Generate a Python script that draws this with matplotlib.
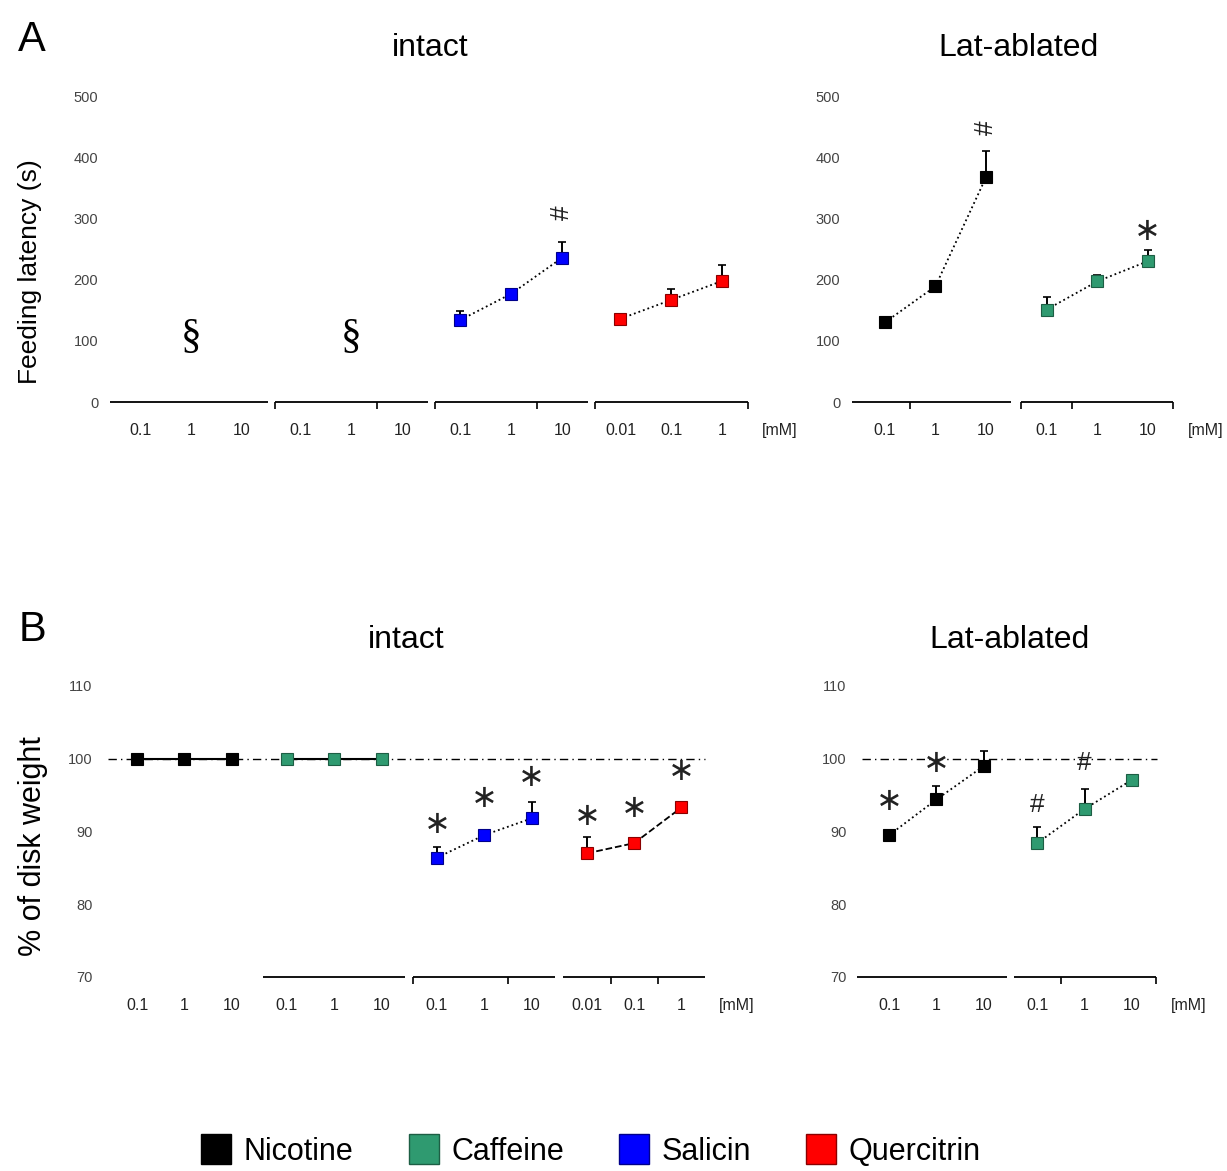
import matplotlib.pyplot as plt
from matplotlib.lines import Line2D

plt.rcParams["font.family"] = ["Liberation Sans", "DejaVu Sans"]

########## Canvas size in pixels
W, H = 1227, 1171

########## Data
compounds = ["Nicotine", "Caffeine", "Salicin", "Quercitrin"]
face_colors = ["#000000", "#2f9a70", "#0000ff", "#ff0000"]
edge_colors = ["#000000", "#1d5e44", "#00008a", "#8a0000"]

doses = ["0.1", "1", "10"]
doses_querc = ["0.01", "0.1", "1"]

# A - feeding latency (s), intact (nicotine / caffeine: no feeding)
lat_int_salicin = [134, 177, 236]
lat_int_salicin_err = [15, 4, 26]
lat_int_querc = [136, 167, 198]
lat_int_querc_err = [3, 18, 26]

# A - feeding latency (s), Lat-ablated
lat_abl_nicotine = [130, 189, 367]
lat_abl_nicotine_err = [3, 4, 43]
lat_abl_caffeine = [151, 197, 230]
lat_abl_caffeine_err = [21, 11, 18]

# B - % of disk weight, intact
wt_int_nicotine = [100, 100, 100]
wt_int_caffeine = [100, 100, 100]
wt_int_salicin = [86.4, 89.5, 91.8]
wt_int_salicin_err = [1.5, 0.3, 2.3]
wt_int_querc = [87.0, 88.4, 93.3]
wt_int_querc_err = [2.2, 0.3, 0.3]

# B - % of disk weight, Lat-ablated
wt_abl_nicotine = [89.5, 94.4, 99.0]
wt_abl_nicotine_err = [0.3, 1.9, 2.0]
wt_abl_caffeine = [88.4, 93.1, 97.1]
wt_abl_caffeine_err = [2.2, 2.7, 0.3]

# significance marks: (symbol, group, dose index, y)
sig_a_int = [("§", 0, 1, 105), ("§", 1, 1, 105), ("#", 2, 2, 310)]
sig_a_abl = [("#", 0, 2, 449), ("*", 1, 2, 278)]
sig_b_int = [("*", 2, 0, 90.9), ("*", 2, 1, 94.6), ("*", 2, 2, 97.4),
             ("*", 3, 0, 92.0), ("*", 3, 1, 93.2), ("*", 3, 2, 98.2)]
sig_b_abl = [("*", 0, 0, 94.1), ("*", 0, 1, 99.4),
             ("#", 1, 0, 93.6), ("#", 1, 1, 99.4)]


fig = plt.figure(figsize=(W / 100, H / 100), dpi=100)


def px_axes(left, top, right, bottom):
    return fig.add_axes([left / W, 1 - bottom / H, (right - left) / W, (bottom - top) / H])


def draw_panel(ax, groups, gstep, xlim, ylim, yticks, mm_pos, marks, rot_hash):
    ax.set_xlim(xlim)
    ax.set_ylim(ylim)
    for s in ax.spines.values():
        s.set_visible(False)
    y0 = ylim[0]

    xt, xl = [], []
    for g, grp in enumerate(groups):
        xs = [g * gstep + i for i in range(3)]
        xt += xs
        xl += grp["labels"]

        # broken x axis segment for this group
        if grp.get("axis", True):
            start = xlim[0] + 0.03 if g == 0 else g * gstep - 0.5
            ax.plot([start, g * gstep + 2.5], [y0, y0], color="k", lw=1.3,
                    clip_on=False, solid_capstyle="butt")
            tk = [g * gstep + t for t in grp.get("ticks", [])]
            if tk:
                ax.plot(tk, [y0] * len(tk), ls="none", marker=3, ms=5, mew=1.2,
                        color="k", clip_on=False)

        if grp.get("values") is None:
            continue
        vals = grp["values"]
        if grp.get("err") is not None:
            ax.errorbar(xs, vals, yerr=[[0] * 3, grp["err"]], fmt="none", ecolor="k",
                        elinewidth=1.4, capsize=3, capthick=1.2, zorder=2)
        ax.plot(xs, vals, color="k", lw=grp.get("lw", 1.3), ls=grp.get("ls", ":"), zorder=3)
        ax.plot(xs, vals, ls="none", marker="s", ms=9, mfc=face_colors[grp["c"]],
                mec=edge_colors[grp["c"]], mew=0.8, zorder=4, clip_on=False)

    xt.append(mm_pos)
    xl.append("[mM]")
    ax.set_xticks(xt, xl)
    ax.tick_params(axis="x", length=0, pad=15, labelsize=11.5, labelcolor="#222222")
    ax.set_yticks(yticks)
    ax.tick_params(axis="y", length=0, pad=7, labelsize=10.5, labelcolor="#444444")

    for sym, g, i, y in marks:
        x = g * gstep + i
        if sym == "§":
            ax.text(x, y, sym, ha="center", va="center", fontsize=30,
                    family="Liberation Serif")
        elif sym == "#":
            ax.text(x, y, sym, ha="center", va="center", fontsize=19,
                    rotation=90 if rot_hash else 0, color="#222222")
        else:
            ax.text(x, y, "∗", ha="center", va="center", fontsize=23,
                    family="DejaVu Sans", color="#222222")


########## Panel A - intact
ax_a1 = px_axes(108, 96, 800, 402)
draw_panel(ax_a1,
           [dict(labels=doses, values=None),
            dict(labels=doses, values=None, ticks=[-0.5, 1.5]),
            dict(labels=doses, values=lat_int_salicin, err=lat_int_salicin_err, c=2, ticks=[-0.5, 1.5]),
            dict(labels=doses_querc, values=lat_int_querc, err=lat_int_querc_err, c=3, ticks=[-0.5, 2.5])],
           3.14, (-0.63, 12.94), (0, 500), [0, 100, 200, 300, 400, 500], 12.55, sig_a_int, True)

########## Panel A - Lat-ablated
ax_a2 = px_axes(850, 96, 1220, 402)
draw_panel(ax_a2,
           [dict(labels=doses, values=lat_abl_nicotine, err=lat_abl_nicotine_err, c=0, ticks=[0.5]),
            dict(labels=doses, values=lat_abl_caffeine, err=lat_abl_caffeine_err, c=1, ticks=[-0.5, 0.5, 2.5])],
           3.2, (-0.69, 6.63), (0, 500), [0, 100, 200, 300, 400, 500], 6.34, sig_a_abl, True)

########## Panel B - intact
ax_b1 = px_axes(102, 686, 760, 977)
ax_b1.plot([-0.61, 12.0], [100, 100], color="k", lw=1, ls=(0, (6, 3, 1, 3)), zorder=1)
draw_panel(ax_b1,
           [dict(labels=doses, values=wt_int_nicotine, c=0, ls="-", lw=1.5, axis=False),
            dict(labels=doses, values=wt_int_caffeine, c=1, ls="-", lw=1.5),
            dict(labels=doses, values=wt_int_salicin, err=wt_int_salicin_err, c=2, ticks=[-0.5, 1.5]),
            dict(labels=doses_querc, values=wt_int_querc, err=wt_int_querc_err, c=3, ls="--", ticks=[0.5, 1.5])],
           3.17, (-0.74, 13.17), (70, 110), [70, 80, 90, 100, 110], 12.68, sig_b_int, False)

########## Panel B - Lat-ablated
ax_b2 = px_axes(856, 686, 1210, 977)
ax_b2.plot([-0.57, 5.66], [100, 100], color="k", lw=1, ls=(0, (6, 3, 1, 3)), zorder=1)
draw_panel(ax_b2,
           [dict(labels=doses, values=wt_abl_nicotine, err=wt_abl_nicotine_err, c=0),
            dict(labels=doses, values=wt_abl_caffeine, err=wt_abl_caffeine_err, c=1, ticks=[0.5, 2.5])],
           3.13, (-0.70, 6.78), (70, 110), [70, 80, 90, 100, 110], 6.32, sig_b_abl, False)

########## Labels and titles
fig.text(32 / W, 1 - 40 / H, "A", fontsize=30, ha="center", va="center")
fig.text(32 / W, 1 - 630 / H, "B", fontsize=30, ha="center", va="center")
fig.text(430 / W, 1 - 48 / H, "intact", fontsize=23, ha="center", va="center")
fig.text(1018 / W, 1 - 48 / H, "Lat-ablated", fontsize=23, ha="center", va="center")
fig.text(406 / W, 1 - 640 / H, "intact", fontsize=23, ha="center", va="center")
fig.text(1010 / W, 1 - 640 / H, "Lat-ablated", fontsize=23, ha="center", va="center")
fig.text(30 / W, 1 - 272 / H, "Feeding latency (s)", fontsize=19, rotation=90,
         ha="center", va="center")
fig.text(33 / W, 1 - 846 / H, "% of disk weight", fontsize=22, rotation=90,
         ha="center", va="center")

########## Legend
handles = [Line2D([], [], ls="none", marker="s", ms=22, mfc=fc, mec=ec, mew=1)
           for fc, ec in zip(face_colors, edge_colors)]
fig.legend(handles, compounds, loc="center", bbox_to_anchor=(591 / W, 1 - 1152 / H),
           ncol=4, frameon=False, fontsize=22, handletextpad=0.4, columnspacing=1.8,
           handlelength=1.0)

fig.savefig("out.png", dpi=100)
